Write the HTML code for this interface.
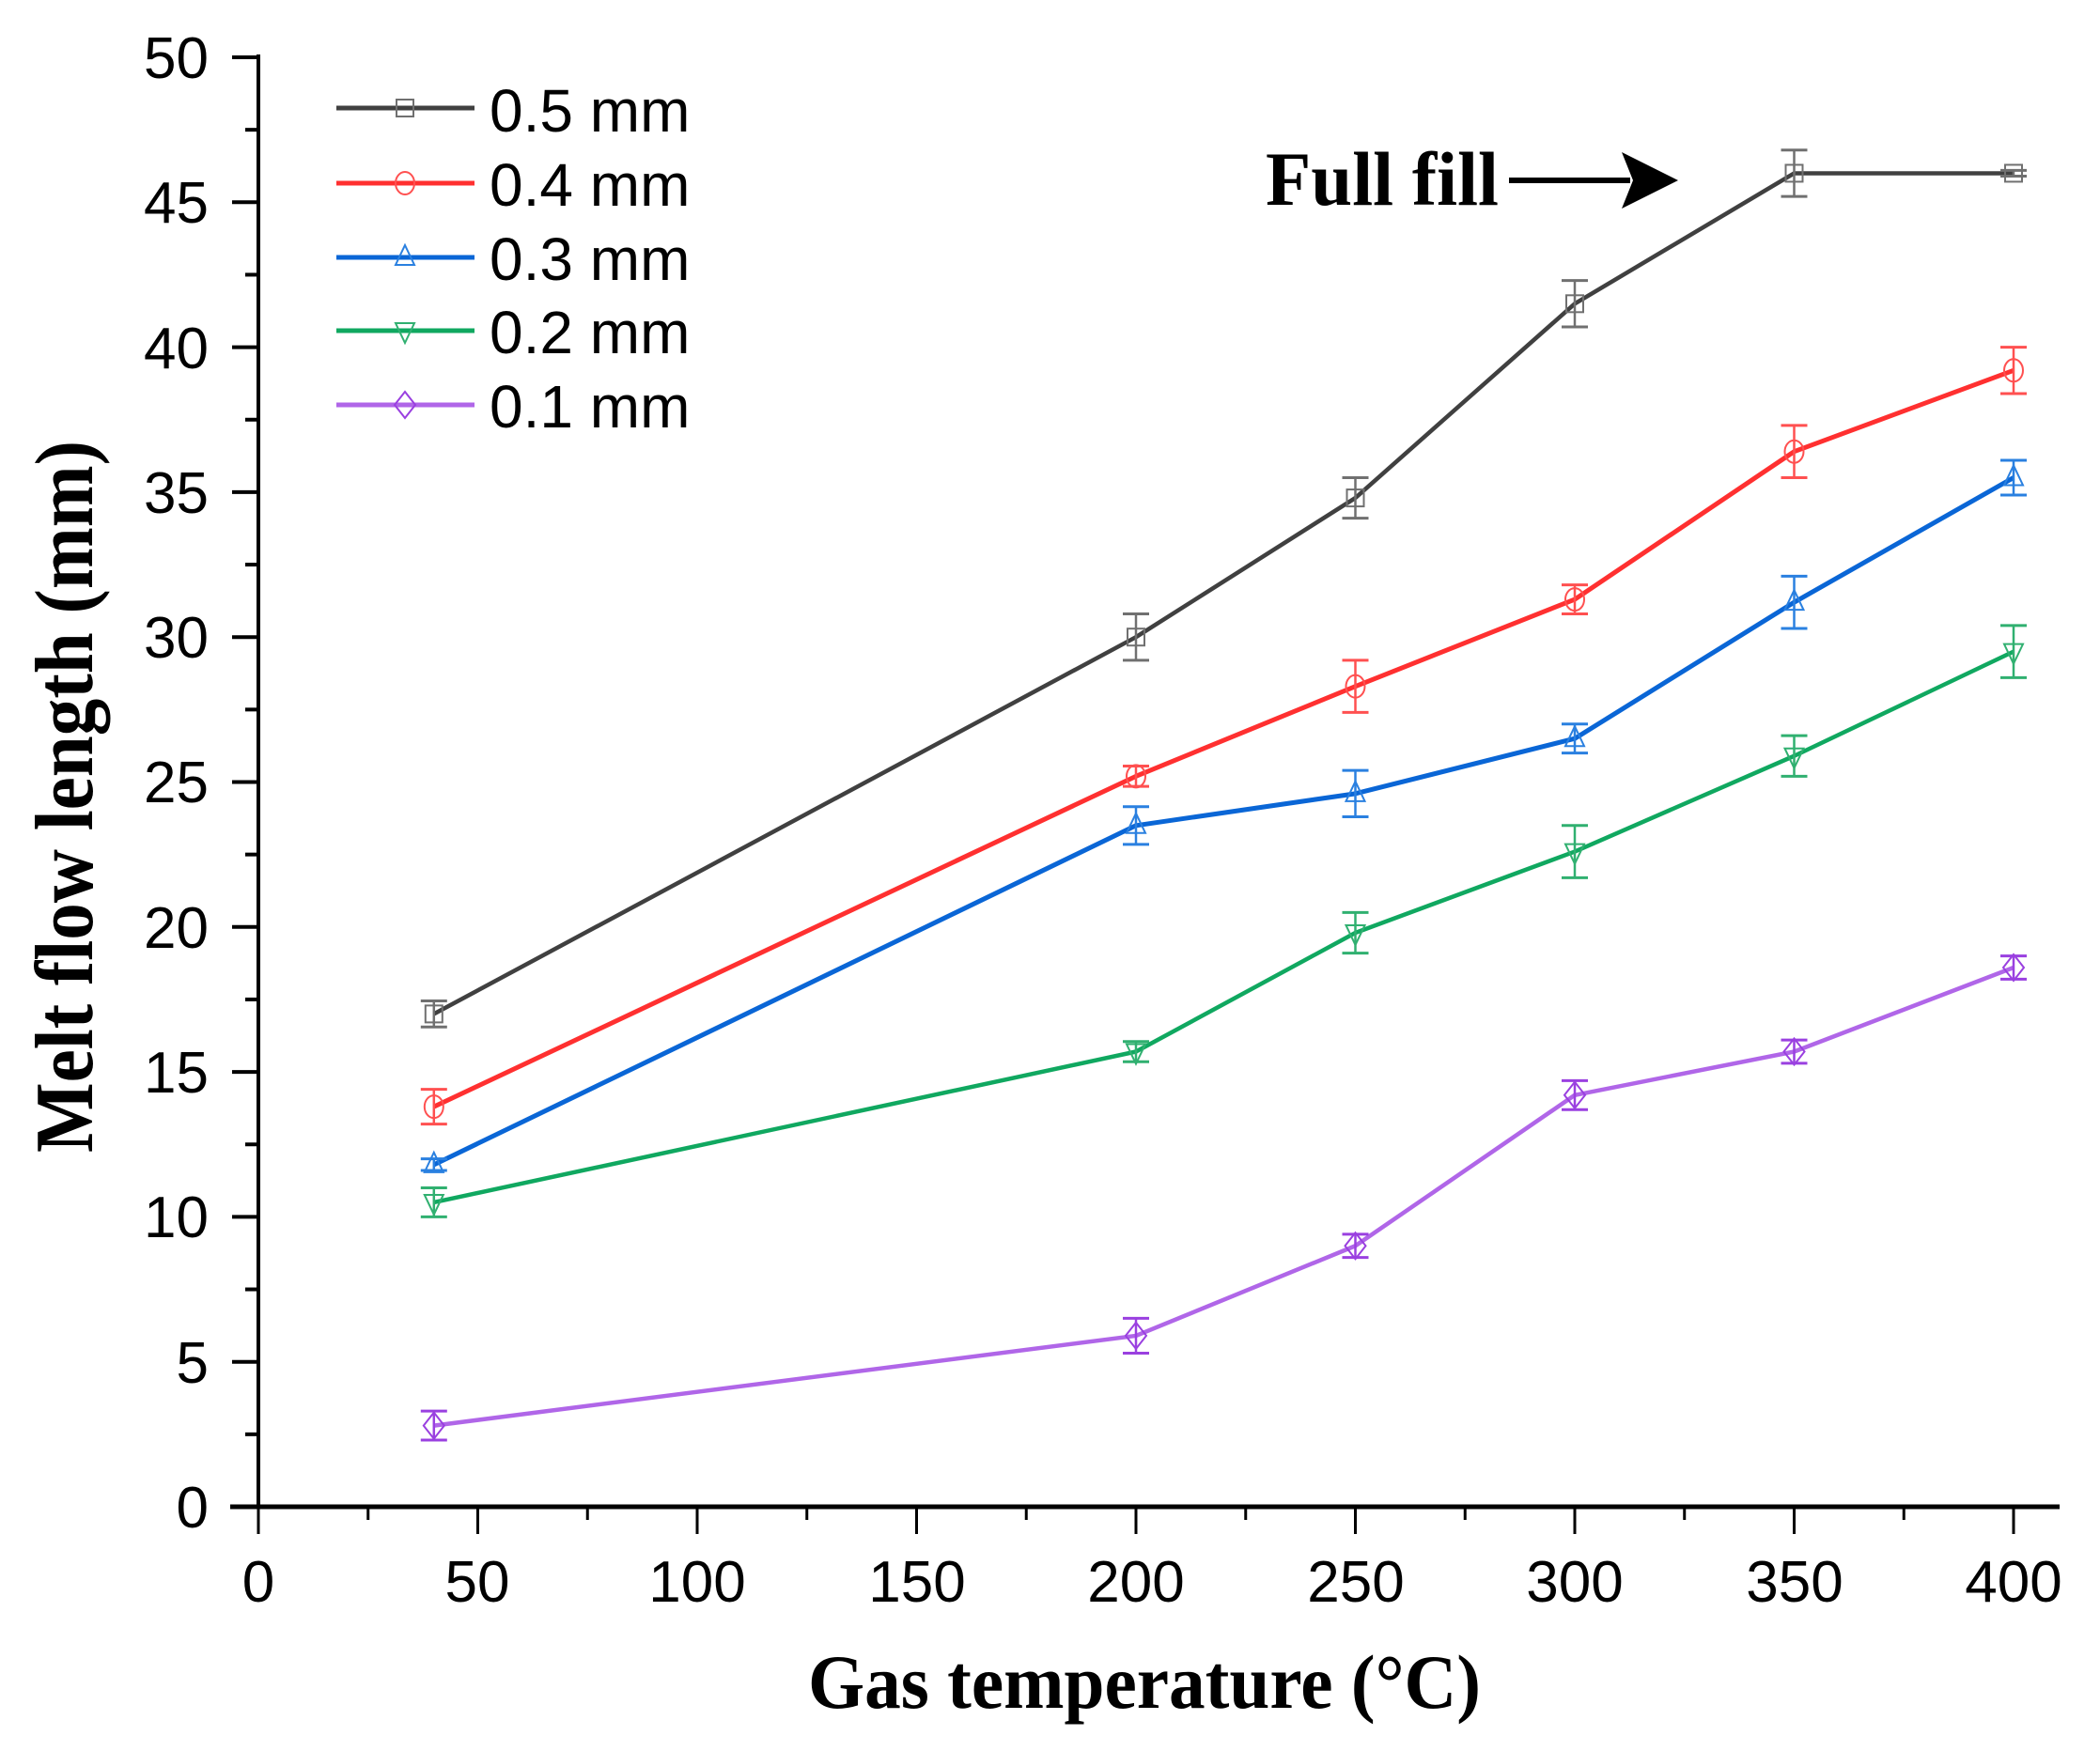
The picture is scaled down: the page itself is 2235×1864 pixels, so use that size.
<!DOCTYPE html>
<html><head><meta charset="utf-8"><style>html,body{margin:0;padding:0;background:#fff}svg{display:block}</style></head>
<body>
<svg xmlns="http://www.w3.org/2000/svg" width="2235" height="1864" viewBox="0 0 2235 1864">
<g font-family="Liberation Sans, Arial, sans-serif" font-size="62" fill="#000">
<g text-anchor="end">
<text x="222" y="1626">0</text>
<text x="222" y="1472">5</text>
<text x="222" y="1317">10</text>
<text x="222" y="1163">15</text>
<text x="222" y="1009">20</text>
<text x="222" y="854">25</text>
<text x="222" y="700">30</text>
<text x="222" y="546">35</text>
<text x="222" y="392">40</text>
<text x="222" y="237">45</text>
<text x="222" y="83">50</text>
</g>
<g text-anchor="middle">
<text x="275" y="1705">0</text>
<text x="508" y="1705">50</text>
<text x="742" y="1705">100</text>
<text x="976" y="1705">150</text>
<text x="1209" y="1705">200</text>
<text x="1443" y="1705">250</text>
<text x="1676" y="1705">300</text>
<text x="1910" y="1705">350</text>
<text x="2143" y="1705">400</text>
</g>
<g font-size="64">
<text x="521" y="140">0.5 mm</text>
<text x="521" y="219">0.4 mm</text>
<text x="521" y="298">0.3 mm</text>
<text x="521" y="376">0.2 mm</text>
<text x="521" y="455">0.1 mm</text>
</g>
</g>
<g font-family="Liberation Serif, Times New Roman, serif" font-weight="bold" fill="#000">
<text x="860" y="1818" font-size="82" textLength="716" lengthAdjust="spacingAndGlyphs">Gas temperature (°C)</text>
<text transform="translate(98,1227) rotate(-90)" font-size="88" textLength="758" lengthAdjust="spacingAndGlyphs">Melt flow length (mm)</text>
<text x="1347" y="218" font-size="82" textLength="248" lengthAdjust="spacingAndGlyphs">Full fill</text>
</g>
<line x1="1606" y1="192" x2="1735" y2="192" stroke="#000" stroke-width="6"/>
<polygon points="1726,162 1786,192 1726,222 1738,192" fill="#000"/>
<g id="axes" stroke="#000" fill="none"></g>
<g id="series"></g>
<g id="legend"></g>
</svg>
<script>
var NS="http://www.w3.org/2000/svg";
function X(v){return 275+v*4.67;}
function Y(v){return 1604-v*30.86;}
function el(p,t,a){var e=document.createElementNS(NS,t);for(var k in a)e.setAttribute(k,a[k]);p.appendChild(e);return e;}
var ax=document.getElementById('axes');
el(ax,'line',{x1:275,y1:58,x2:275,y2:1606,'stroke-width':4});
el(ax,'line',{x1:245,y1:1604,x2:2192,y2:1604,'stroke-width':5});
for(var v=0;v<=50;v+=2.5){var maj=(v%5===0);el(ax,'line',{x1:maj?247:261,y1:Y(v),x2:275,y2:Y(v),'stroke-width':4});}
for(var v=0;v<=400;v+=25){var maj=(v%50===0);el(ax,'line',{x1:X(v),y1:1604,x2:X(v),y2:maj?1633:1618,'stroke-width':3});}
var xs=[40,200,250,300,350,400];
var S=[
{c:'#404040',m:'#707070',k:'sq',y:[17,30,34.8,41.5,46,46],e:[0.45,0.8,0.7,0.8,0.8,0.1],w:4.5},
{c:'#ff3030',m:'#ff5050',k:'ci',y:[13.8,25.2,28.3,31.3,36.4,39.2],e:[0.6,0.35,0.9,0.5,0.9,0.8],w:5},
{c:'#0a66d6',m:'#2a80e0',k:'tu',y:[11.8,23.5,24.6,26.5,31.2,35.5],e:[0.2,0.65,0.8,0.5,0.9,0.6],w:5},
{c:'#10a860',m:'#30b070',k:'td',y:[10.5,15.7,19.8,22.6,25.9,29.5],e:[0.5,0.35,0.7,0.9,0.7,0.9],w:4.5},
{c:'#b066e8',m:'#9a40e0',k:'di',y:[2.8,5.9,9.0,14.2,15.7,18.6],e:[0.5,0.6,0.4,0.5,0.4,0.4],w:4.5}];
function marker(g,k,x,y,col){var r=11;
if(k==='sq')el(g,'rect',{x:x-r+2,y:y-r+2,width:2*r-4,height:2*r-4,fill:'none',stroke:col,'stroke-width':2});
if(k==='ci')el(g,'ellipse',{cx:x,cy:y,rx:r-1,ry:r+1,fill:'none',stroke:col,'stroke-width':2});
if(k==='tu')el(g,'polygon',{points:(x)+','+(y-r-2)+' '+(x+r-1)+','+(y+r-3)+' '+(x-r+1)+','+(y+r-3),fill:'none',stroke:col,'stroke-width':2});
if(k==='td')el(g,'polygon',{points:(x)+','+(y+r+2)+' '+(x+r-1)+','+(y-r+3)+' '+(x-r+1)+','+(y-r+3),fill:'none',stroke:col,'stroke-width':2});
if(k==='di')el(g,'polygon',{points:x+','+(y-r-3)+' '+(x+r)+','+y+' '+x+','+(y+r+3)+' '+(x-r)+','+y,fill:'none',stroke:col,'stroke-width':2});}
var sg=document.getElementById('series');
S.forEach(function(s){
var pts=xs.map(function(x,i){return X(x)+','+Y(s.y[i]);}).join(' ');
el(sg,'polyline',{points:pts,fill:'none',stroke:s.c,'stroke-width':s.w,'stroke-linejoin':'round'});
xs.forEach(function(x,i){var cx=X(x),t=Y(s.y[i]+s.e[i]),b=Y(s.y[i]-s.e[i]);
el(sg,'line',{x1:cx,y1:t,x2:cx,y2:b,stroke:s.m,'stroke-width':2.5});
el(sg,'line',{x1:cx-14,y1:t,x2:cx+14,y2:t,stroke:s.m,'stroke-width':3});
el(sg,'line',{x1:cx-14,y1:b,x2:cx+14,y2:b,stroke:s.m,'stroke-width':3});
marker(sg,s.k,cx,Y(s.y[i]),s.m);});});
var lg=document.getElementById('legend');var ly=[115,195,274,352,431];
S.forEach(function(s,i){el(lg,'line',{x1:358,y1:ly[i],x2:505,y2:ly[i],stroke:s.c,'stroke-width':5});marker(lg,s.k,431,ly[i],s.m);});
</script>
</body></html>
